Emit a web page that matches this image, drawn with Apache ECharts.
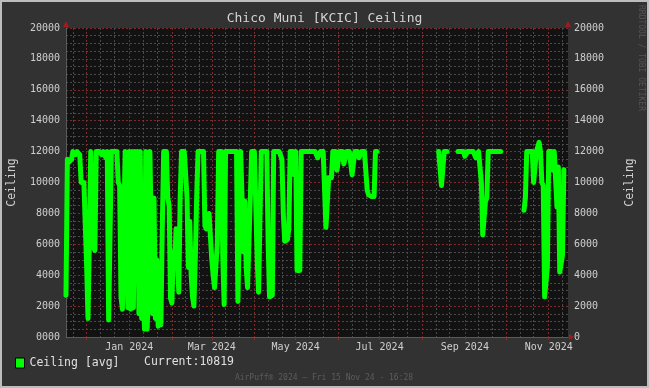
<!DOCTYPE html>
<html><head><meta charset="utf-8">
<script src="https://cdn.jsdelivr.net/npm/echarts@6/dist/echarts.min.js"></script>
<style>html,body{margin:0;padding:0;background:#323232;} #c{width:649px;height:388px;}</style>
</head><body><div id="c"></div>
<script>
// Daily ceiling values (ft), one per day from 2023-11-16 to 2024-11-15; null = no data
const startDate = [2023, 11, 16];
const ceiling = [
 2700, 11500, 11300, 11300, 11500, 12000, 12000, 11800, 12000, 12000,
 11800, 10000, 9900, 10000, 10000, 4600, 1200, 1200, 12000, 12000,
 5800, 5600, 12000, 12000, 12000, 12000, 11800, 12000, 12000, 11600,
 12000, 1100, 1000, 12000, 12000, 12000, 12000, 12000, 10000, 9800,
 2600, 1800, 1800, 12000, 12000, 1900, 12000, 1800, 12000, 1900,
 12000, 9000, 12000, 1500, 12000, 1200, 8000, 500, 12000, 500,
 3000, 12000, 12000, 1500, 9000, 1200, 5000, 700, 2500, 800,
 7000, 12000, 12000, 12000, 9000, 8500, 2500, 2200, 5500, 4500,
 7000, 5000, 2900, 9000, 12000, 12000, 12000, 12000, 9000, 4500,
 7500, 4000, 2600, 2000, 5000, 9000, 12000, 12000, 12000, 12000,
 12000, 7200, 7000, 7200, 8000, 6500, 5000, 4000, 3200, 3300,
 6000, 12000, 12000, 12000, 5000, 2100, 12000, 12000, 12000, 12000,
 12000, 12000, 12000, 12000, 12000, 2300, 2300, 12000, 9000, 5500,
 8800, 4500, 3200, 3300, 9000, 12000, 12000, 12000, 12000, 5000,
 2900, 2800, 12000, 12000, 12000, 12000, 12000, 6000, 2600, 2600,
 2700, 12000, 12000, 12000, 12000, 12000, 12000, 11500, 8000, 6200,
 6200, 6300, 7000, 12000, 12000, 12000, 10500, 12000, 4300, 4200,
 4300, 12000, 12000, 12000, 12000, 12000, 12000, 12000, 12000, 12000,
 12000, 12000, 12000, 11600, 11700, 12000, 12000, 12000, 12000, 7100,
 7100, 10300, 10300, 10300, 12000, 12000, 12000, 10800, 10700, 12000,
 12000, 12000, 11200, 11100, 12000, 12000, 12000, 12000, 10500, 10500,
 12000, 12000, 12000, 11600, 11700, 12000, 12000, 12000, 12000, 9500,
 9200, 9100, 9100, 9200, 9100, 12000, 12000, null, null, null,
 null, null, null, null, null, null, null, null, null, null,
 null, null, null, null, null, null, null, null, null, null,
 null, null, null, null, null, null, null, null, null, null,
 null, null, null, null, null, null, null, null, null, null,
 null, 12000, 12000, 9800, 9800, 12000, 12000, 12000, null, null,
 null, null, null, null, null, 12000, 12000, 12000, 12000, 12000,
 11700, 11600, 12000, 12000, 12000, 12000, 12000, 12000, 11600, 11700,
 12000, 12000, 10000, 6600, 6500, 8800, 9000, 12000, 12000, 12000,
 12000, 12000, 12000, 12000, 12000, 12000, 12000, null, null, null,
 null, null, null, null, null, null, null, null, null, null,
 null, null, null, 8200, 9000, 12000, 12000, 12000, 12000, 12000,
 10000, 10000, 12000, 12000, 12600, 12000, 10000, 9800, 2600, 2600,
 4500, 12000, 12000, 12000, 10800, 12000, 12000, 8400, 11000, 4200,
 4200, 5300, 10819, null, null, null
];
const monthNames = ['Jan','Feb','Mar','Apr','May','Jun','Jul','Aug','Sep','Oct','Nov','Dec'];
const labelMonths = [1, 3, 5, 7, 9, 11];
const minorDays = [11, 21];
const yMin = 0, yMax = 20000, yStep = 2000;
const seriesName = 'Ceiling [avg]';
const titleText = 'Chico Muni [KCIC] Ceiling';
const footerText = 'AirPuff\u00ae 2024 \u2013 Fri 15 Nov 24 - 16:28';

const categories = [];
const t0 = Date.UTC(startDate[0], startDate[1] - 1, startDate[2]);
for (let i = 0; i < ceiling.length; i++) {
  categories.push(new Date(t0 + i * 86400000).toISOString().slice(0, 10));
}
const dom = v => +v.slice(8, 10);
const mon = v => +v.slice(5, 7);
const lastVal = ceiling.filter(v => v != null).pop();

const MONO = '"DejaVu Sans Mono", monospace';
const RED = '#7a2c2c';
const GRAY = '#4a4a4a';
const TXT = '#cfcfcf';

const chart = echarts.init(document.getElementById('c'));
chart.setOption({
  backgroundColor: '#323232',
  animation: false,
  title: { text: titleText, left: 'center', top: 12, padding: 0,
    textStyle: { color: '#d4d4d4', fontFamily: MONO, fontSize: 13, fontWeight: 'normal' } },
  grid: { left: 66, right: 81, top: 28, bottom: 51, show: true, backgroundColor: '#121212', borderWidth: 0,
    containLabel: false, outerBoundsMode: 'none' },
  legend: { data: [seriesName], left: 15, top: 357, padding: 0, itemWidth: 9, itemHeight: 10, icon: 'rect',
    itemStyle: { borderColor: '#000', borderWidth: 1 },
    textStyle: { color: '#e0e0e0', fontFamily: MONO, fontSize: 11.5 } },
  xAxis: [
    { type: 'category', data: categories, boundaryGap: false,
      axisLine: { show: true, lineStyle: { color: '#5a5a5a' } },
      axisTick: { show: true, length: 3, interval: (i, v) => dom(v) === 1, lineStyle: { color: '#8a2a2a' } },
      axisLabel: { interval: (i, v) => dom(v) === 1 && labelMonths.includes(mon(v)),
        formatter: v => monthNames[mon(v) - 1] + ' ' + v.slice(0, 4),
        color: TXT, fontFamily: MONO, fontSize: 10, margin: 5 },
      splitLine: { show: true, interval: (i, v) => dom(v) === 1, lineStyle: { color: RED, type: [2, 2] } } },
    { type: 'category', data: categories, boundaryGap: false, position: 'bottom',
      axisLine: { show: false }, axisTick: { show: false }, axisLabel: { show: false },
      splitLine: { show: true, interval: (i, v) => minorDays.includes(dom(v)), lineStyle: { color: GRAY, type: [2, 2] } } }
  ],
  yAxis: [
    { type: 'value', min: yMin, max: yMax, interval: yStep, position: 'left',
      name: 'Ceiling', nameLocation: 'middle', nameGap: 48, nameRotate: 90,
      nameTextStyle: { color: '#d0d0d0', fontFamily: MONO, fontSize: 11.5 },
      axisLine: { show: true, lineStyle: { color: '#5a5a5a' } }, axisTick: { show: false },
      axisLabel: { color: TXT, fontFamily: MONO, fontSize: 10, margin: 6, formatter: v => v === 0 ? '0000' : String(v) },
      splitLine: { show: true, lineStyle: { color: RED, type: [2, 2] } },
      minorTick: { show: false, splitNumber: 4 },
      minorSplitLine: { show: true, lineStyle: { color: GRAY, type: [2, 2] } } },
    { type: 'value', min: yMin, max: yMax, interval: yStep, position: 'right',
      name: 'Ceiling', nameLocation: 'middle', nameGap: 56, nameRotate: 90,
      nameTextStyle: { color: '#d0d0d0', fontFamily: MONO, fontSize: 11.5 },
      axisLine: { show: false }, axisTick: { show: false },
      axisLabel: { color: TXT, fontFamily: MONO, fontSize: 10, margin: 6, formatter: v => String(v) },
      splitLine: { show: false } }
  ],
  series: [
    { name: seriesName, type: 'line', data: ceiling, xAxisIndex: 0, yAxisIndex: 0,
      showSymbol: false, connectNulls: false, clip: true,
      itemStyle: { color: '#00ff00' },
      lineStyle: { color: '#00ff00', width: 5, cap: 'round', join: 'round' } }
  ],
  graphic: [
    { type: 'rect', shape: { x: 1, y: 1, width: 647, height: 386 }, style: { fill: 'none', stroke: '#bdbdbd', lineWidth: 2 }, silent: true },
    { type: 'text', x: 144, y: 362, style: { text: 'Current:' + lastVal, fill: '#e0e0e0', font: '11.5px "DejaVu Sans Mono"', textVerticalAlign: 'middle' } },
    { type: 'text', x: 324, y: 378, style: { text: footerText, fill: '#5c5c5c', font: '8px "DejaVu Sans Mono"', textAlign: 'center', textVerticalAlign: 'middle' } },
    { type: 'text', x: 641, y: 5, rotation: -Math.PI / 2, style: { text: 'RRDTOOL / TOBI OETIKER', fill: '#555555', font: '8px "DejaVu Sans Mono"', textAlign: 'left', textVerticalAlign: 'middle' } },
    { type: 'polygon', shape: { points: [[63, 27], [69, 27], [66, 21]] }, style: { fill: '#a01c1c' } },
    { type: 'polygon', shape: { points: [[565, 27], [571, 27], [568, 21]] }, style: { fill: '#a01c1c' } },
    { type: 'polygon', shape: { points: [[569, 334], [569, 340], [574, 337]] }, style: { fill: '#a01c1c' } }
  ]
});
</script>
</body></html>
